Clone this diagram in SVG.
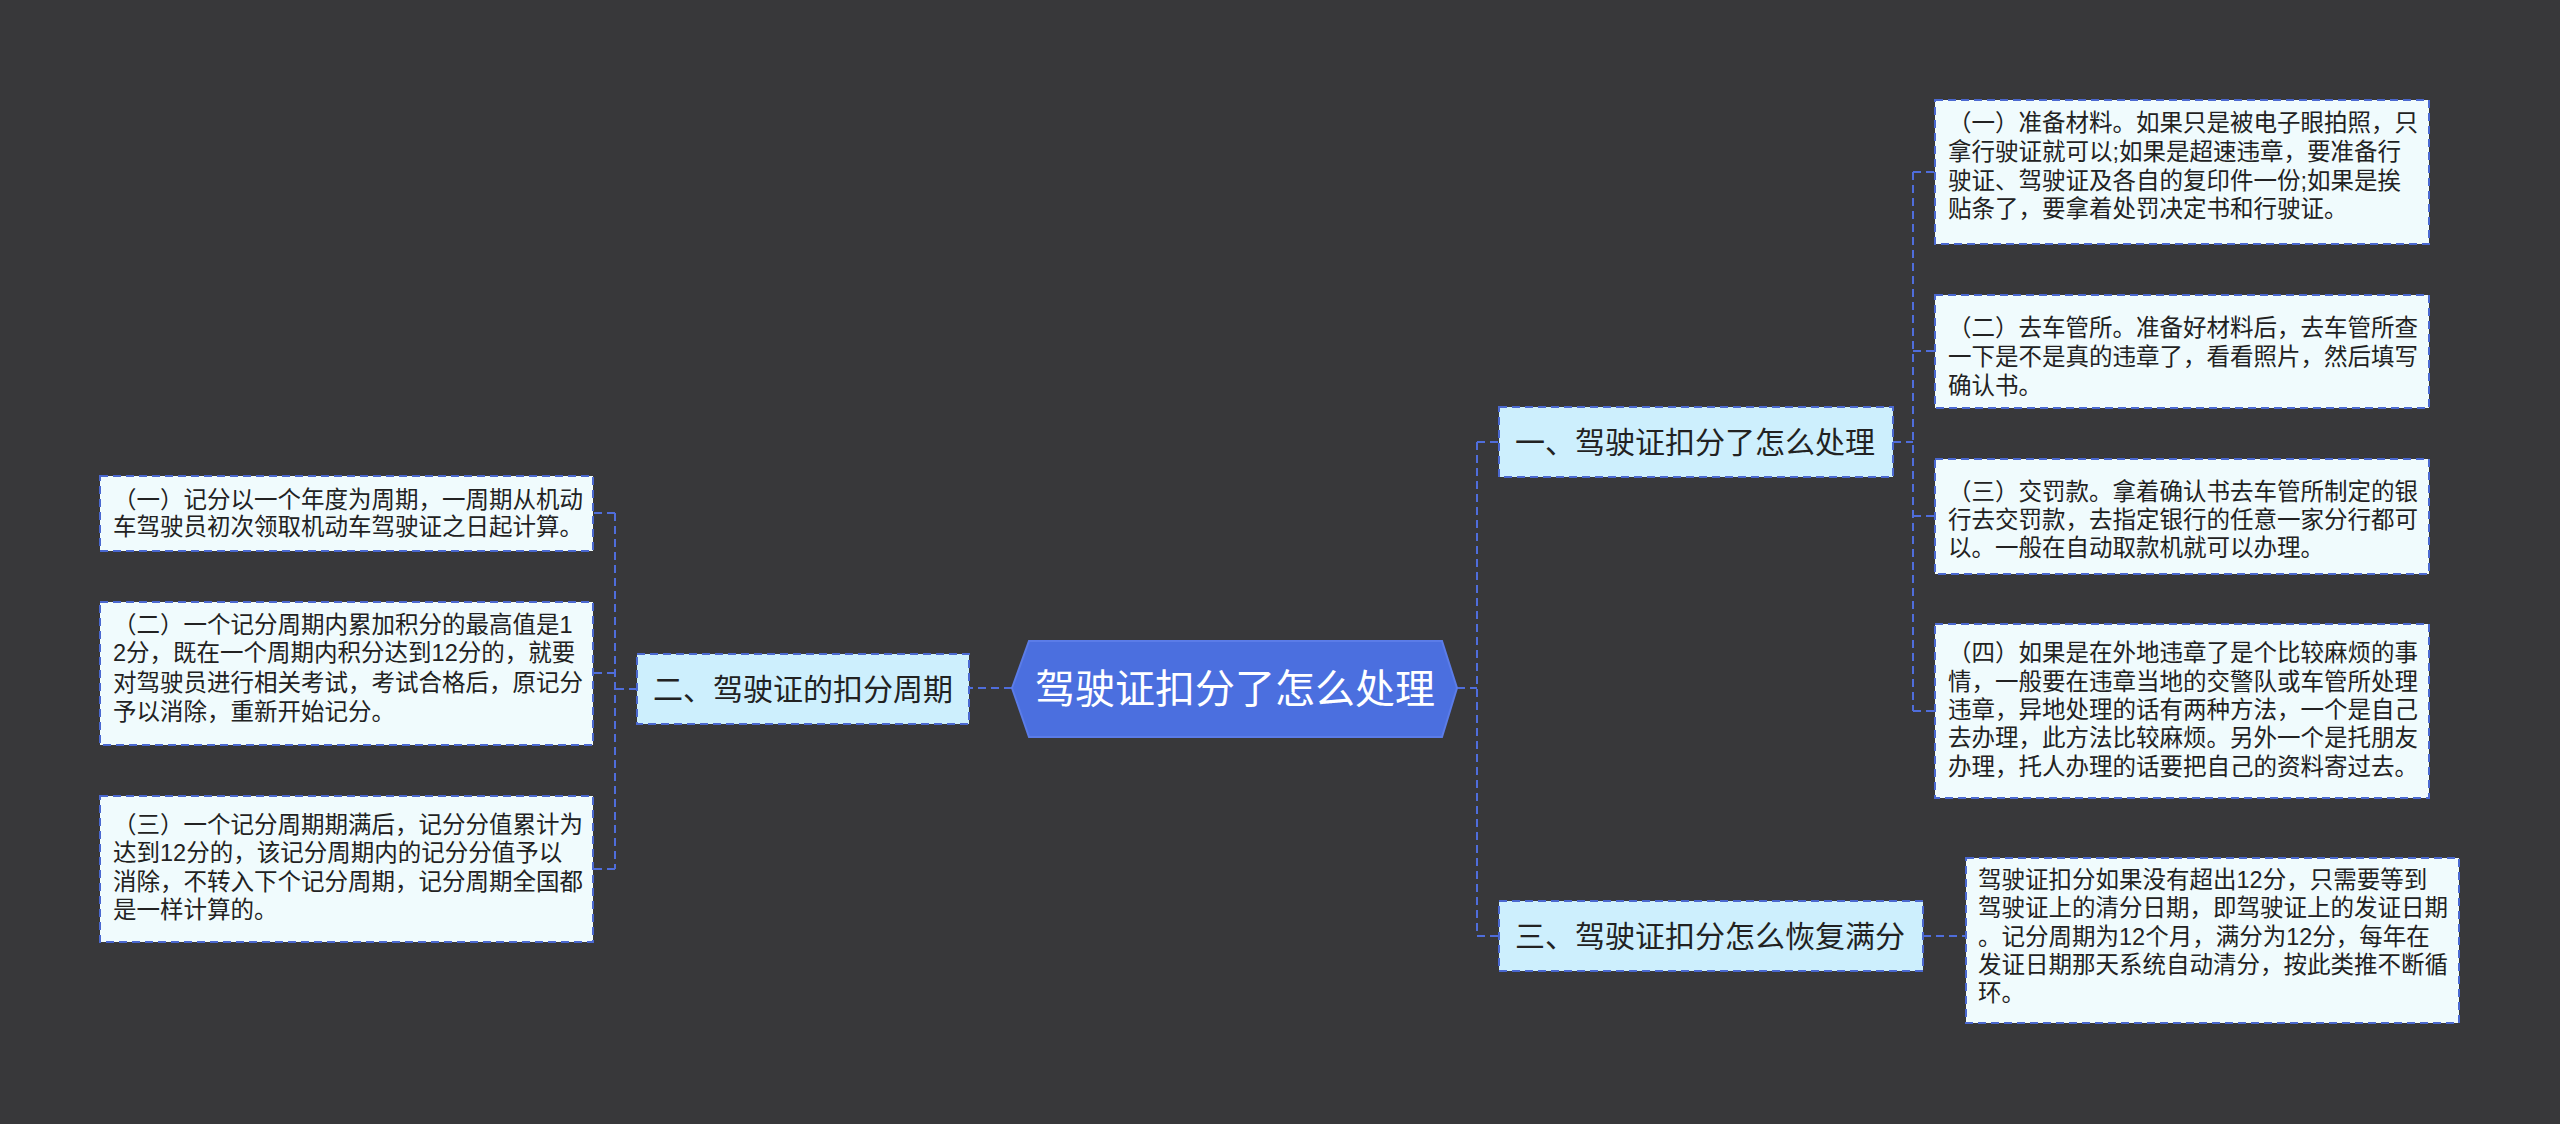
<svg xmlns="http://www.w3.org/2000/svg" width="2560" height="1124" viewBox="0 0 2560 1124">
<style>
.bg{fill:#38383a}
.br{fill:#cdeffd;stroke:#4a68d0;stroke-width:2;stroke-dasharray:8 5}
.lf{fill:#f0fbfd;stroke:#4a68d0;stroke-width:2;stroke-dasharray:8 5}
.t{font-family:"Liberation Sans","Noto Sans CJK SC",sans-serif;fill:#222}
.lt{font-size:23.5px}
.bt{font-size:30px}
.ct{font-size:40px;fill:#fff}
.cn{fill:none;stroke:#4f6ddb;stroke-width:2;stroke-dasharray:8 5}
</style>
<rect class="bg" x="0" y="0" width="2560" height="1124"/>
<g id="connectors">
<path class="cn" d="M1457 688 H1477 M1477 442 V936 M1477 442 H1499 M1477 936 H1499"/>
<path class="cn" d="M1893 442 H1913 M1913 172 V711 M1913 172 H1935 M1913 351 H1935 M1913 516 H1935 M1913 711 H1935"/>
<path class="cn" d="M1923 936 H1966"/>
<path class="cn" d="M1012 688 H969"/>
<path class="cn" d="M637 689 H615 M615 513 V869 M615 513 H593 M615 673 H593 M615 869 H593"/>
</g>
<g id="root">
<polygon points="1012,688 1029,641 1442,641 1457,688 1442,737 1029,737" fill="#4b6fdf" stroke="#5b7ce8" stroke-width="2"/>
<text class="t ct" x="1235" y="703" text-anchor="middle">驾驶证扣分了怎么处理</text>
</g>
<g id="b1">
<rect class="br" x="1499" y="407" width="394" height="70"/>
<text class="t bt" x="1515" y="453">一、驾驶证扣分了怎么处理</text>
</g>
<g id="b2">
<rect class="br" x="637" y="654" width="332" height="70"/>
<text class="t bt" x="653" y="700">二、驾驶证的扣分周期</text>
</g>
<g id="b3">
<rect class="br" x="1499" y="901" width="424" height="70"/>
<text class="t bt" x="1515" y="947">三、驾驶证扣分怎么恢复满分</text>
</g>
<g id="r1">
<rect class="lf" x="1935" y="100" width="494" height="144"/>
<text class="t lt"><tspan x="1948" y="131">（一）准备材料。如果只是被电子眼拍照，只</tspan><tspan x="1948" y="160">拿行驶证就可以;如果是超速违章，要准备行</tspan><tspan x="1948" y="189">驶证、驾驶证及各自的复印件一份;如果是挨</tspan><tspan x="1948" y="217">贴条了，要拿着处罚决定书和行驶证。</tspan></text>
</g>
<g id="r2">
<rect class="lf" x="1935" y="295" width="494" height="113"/>
<text class="t lt"><tspan x="1948" y="336">（二）去车管所。准备好材料后，去车管所查</tspan><tspan x="1948" y="365">一下是不是真的违章了，看看照片，然后填写</tspan><tspan x="1948" y="394">确认书。</tspan></text>
</g>
<g id="r3">
<rect class="lf" x="1935" y="459" width="494" height="115"/>
<text class="t lt"><tspan x="1948" y="500">（三）交罚款。拿着确认书去车管所制定的银</tspan><tspan x="1948" y="528">行去交罚款，去指定银行的任意一家分行都可</tspan><tspan x="1948" y="556">以。一般在自动取款机就可以办理。</tspan></text>
</g>
<g id="r4">
<rect class="lf" x="1935" y="624" width="494" height="174"/>
<text class="t lt"><tspan x="1948" y="661">（四）如果是在外地违章了是个比较麻烦的事</tspan><tspan x="1948" y="690">情，一般要在违章当地的交警队或车管所处理</tspan><tspan x="1948" y="718">违章，异地处理的话有两种方法，一个是自己</tspan><tspan x="1948" y="746">去办理，此方法比较麻烦。另外一个是托朋友</tspan><tspan x="1948" y="775">办理，托人办理的话要把自己的资料寄过去。</tspan></text>
</g>
<g id="r5">
<rect class="lf" x="1966" y="858" width="493" height="165"/>
<text class="t lt"><tspan x="1978" y="888">驾驶证扣分如果没有超出12分，只需要等到</tspan><tspan x="1978" y="916">驾驶证上的清分日期，即驾驶证上的发证日期</tspan><tspan x="1978" y="945">。记分周期为12个月，满分为12分，每年在</tspan><tspan x="1978" y="973">发证日期那天系统自动清分，按此类推不断循</tspan><tspan x="1978" y="1001">环。</tspan></text>
</g>
<g id="l1">
<rect class="lf" x="100" y="476" width="493" height="75"/>
<text class="t lt"><tspan x="113" y="508">（一）记分以一个年度为周期，一周期从机动</tspan><tspan x="113" y="535">车驾驶员初次领取机动车驾驶证之日起计算。</tspan></text>
</g>
<g id="l2">
<rect class="lf" x="100" y="602" width="493" height="143"/>
<text class="t lt"><tspan x="113" y="633">（二）一个记分周期内累加积分的最高值是1</tspan><tspan x="113" y="661">2分，既在一个周期内积分达到12分的，就要</tspan><tspan x="113" y="691">对驾驶员进行相关考试，考试合格后，原记分</tspan><tspan x="113" y="720">予以消除，重新开始记分。</tspan></text>
</g>
<g id="l3">
<rect class="lf" x="100" y="796" width="493" height="146"/>
<text class="t lt"><tspan x="113" y="833">（三）一个记分周期期满后，记分分值累计为</tspan><tspan x="113" y="861">达到12分的，该记分周期内的记分分值予以</tspan><tspan x="113" y="890">消除，不转入下个记分周期，记分周期全国都</tspan><tspan x="113" y="918">是一样计算的。</tspan></text>
</g>
</svg>
